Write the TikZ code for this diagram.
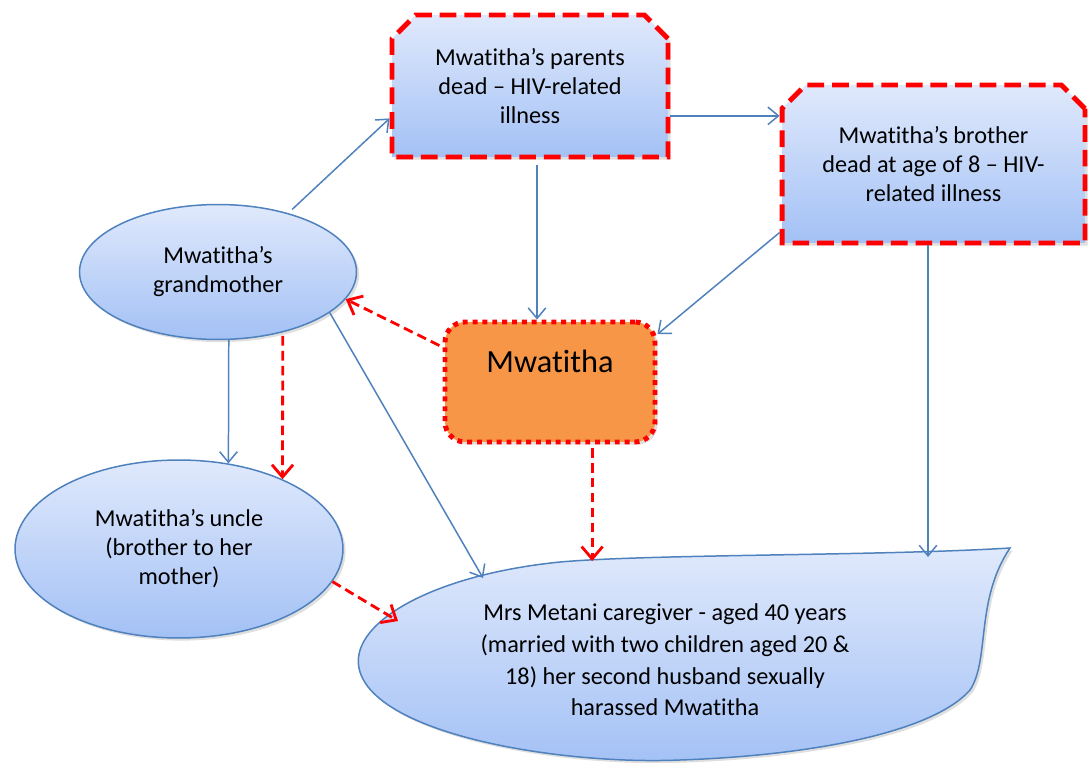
\documentclass[tikz,border=0pt]{standalone}
\usepackage{fontspec}
\setmainfont[Ligatures={NoCommon}]{Carlito}
\usetikzlibrary{shapes.geometric, shapes.misc, arrows.meta, shadows}

\definecolor{shapeblue}{RGB}{79,129,189}
\definecolor{filltop}{RGB}{224,233,252}
\definecolor{fillbottom}{RGB}{163,193,245}
\definecolor{deadred}{RGB}{255,0,0}
\definecolor{centreorange}{RGB}{247,150,70}

\tikzset{
  softshadow/.style={drop shadow={opacity=0.25, shadow xshift=1.5pt, shadow yshift=-1.5pt}},
  person/.style={ellipse, draw=shapeblue, line width=0.85pt, top color=filltop, bottom color=fillbottom,
    align=center, inner sep=0pt, softshadow, font=\fontsize{13.8}{16.5}\selectfont},
  deathbox/.style={chamfered rectangle, chamfered rectangle corners={north west, north east},
    chamfered rectangle xsep=0.36cm, draw=deadred, line width=2.8pt, dash pattern=on 9.5pt off 4.5pt,
    top color=filltop, bottom color=fillbottom, align=center, inner sep=0pt, softshadow,
    font=\fontsize{13.8}{16.5}\selectfont},
  flow/.style={draw=shapeblue, line width=0.85pt, -{Straight Barb[length=6pt, width=10pt]}},
  redflow/.style={draw=deadred, line width=1.6pt, dash pattern=on 5.5pt off 3pt,
    -{Straight Barb[length=7pt, width=12pt]}}
}

\begin{document}
\begin{tikzpicture}[x={(0.02cm,0)}, y={(0,-0.02cm)}]
\useasboundingbox (0,0) rectangle (1088,763);

% The two deaths at the top
\node[deathbox, minimum width=5.52cm, minimum height=2.84cm] (par) at (530,86)
  {Mwatitha’s parents\\dead – HIV-related\\illness};
\node[deathbox, minimum width=6.06cm, minimum height=3.16cm] (bro) at (933.5,164)
  {Mwatitha’s brother\\dead at age of 8 – HIV-\\related illness};

% Mwatitha in the middle
\node[rectangle, rounded corners=0.4cm, fill=centreorange, draw=deadred, line width=2.8pt,
  dash pattern=on 2.8pt off 2.8pt, minimum width=4.2cm, inner sep=0pt,
  text height=1.0cm, text depth=1.4cm, font=\fontsize{18.4}{22}\selectfont, softshadow]
  (mw) at (550,382) {Mwatitha};

% Relatives on the left
\node[person, minimum width=5.54cm, minimum height=2.7cm] (gm) at (218,272) {Mwatitha’s\\grandmother};
\node[person, minimum width=6.56cm, minimum height=3.56cm] (un) at (179,549)
  {Mwatitha’s uncle\\(brother to her\\mother)};

% The caregiver shape at the bottom
\draw[draw=shapeblue, line width=0.85pt, top color=filltop, bottom color=fillbottom, softshadow]
  (1010,548) .. controls (880,556) and (650,554) .. (560,562)
  .. controls (430,575) and (345,625) .. (360,672)
  .. controls (380,735) and (560,765) .. (680,760)
  .. controls (800,756) and (930,735) .. (970,690)
  .. controls (990,660) and (975,600) .. (1010,548) -- cycle;
\node[align=center, font=\fontsize{13.8}{18}\selectfont] (mrs) at (665,660)
  {Mrs Metani caregiver - aged 40 years\\(married with two children aged 20 \&\\18) her second husband sexually\\harassed Mwatitha};
\coordinate (mrsTop) at (928,557);
\coordinate (mrsMid) at (590,561);
\coordinate (mrsLeft) at (483,578);
\coordinate (mrsEdge) at (398,621);

% Solid blue links
\draw[flow, shorten <=3pt] (gm.40) -- (par.193);
\draw[flow] (par.-12) -- (par.-12 -| bro.west);
\draw[flow, shorten <=3pt] ([xshift=0.14cm]par.south) -- ([xshift=0.14cm]par.south |- mw.north);
\draw[flow] (bro.204) -- (mw.24);
\draw[flow] ([xshift=-0.11cm]bro.south) -- ([xshift=-0.11cm]bro.south |- mrsTop);
\draw[flow] (gm.-81) -- (un.60);
\draw[flow] (gm.-20) -- (mrsLeft);

% Dashed red links
\draw[redflow, shorten <=2pt] (mw.162) -- (gm.-12);
\draw[redflow, shorten <=2pt] (gm.-43) -- (un.34);
\draw[redflow, shorten <=2pt] (mw.-56) -- (mw.-56 |- mrsMid);
\draw[redflow] (un.-12) -- (mrsEdge);

\end{tikzpicture}
\end{document}
